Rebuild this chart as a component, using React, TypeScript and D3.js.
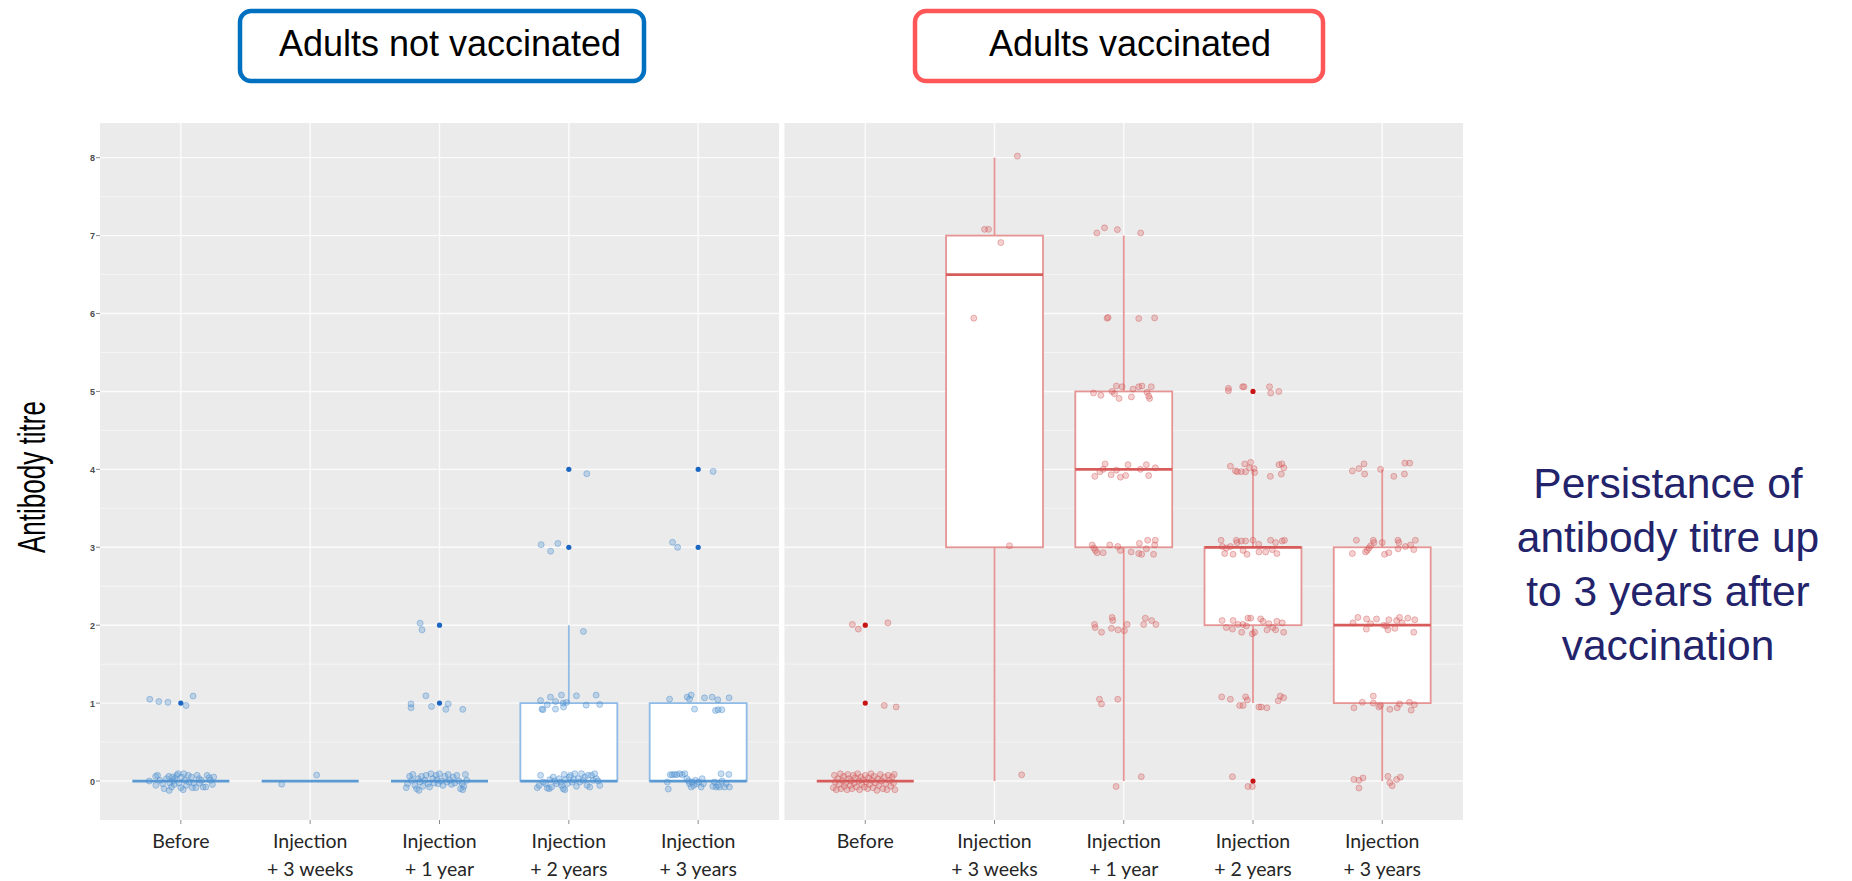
import React, { useEffect, useRef } from 'react';
import * as d3 from 'd3';

type Pt = [number, number]; // [horizontal jitter in category units, titre]

const categories = ['Before', '+3 weeks', '+1 year', '+2 years', '+3 years'];
const tickLines = [
  ['Before'],
  ['Injection', '+ 3 weeks'],
  ['Injection', '+ 1 year'],
  ['Injection', '+ 2 years'],
  ['Injection', '+ 3 years'],
];
const yTicks = [0, 1, 2, 3, 4, 5, 6, 7, 8];
const yMinor = [0.5, 1.5, 2.5, 3.5, 4.5, 5.5, 6.5, 7.5];

// box statistics, one entry per category
const notVaxQ1 = [0, 0, 0, 0, 0];
const notVaxMedian = [0, 0, 0, 0, 0];
const notVaxQ3 = [0, 0, 0, 1, 1];
const notVaxLow = [0, 0, 0, 0, 0];
const notVaxHigh = [0, 0, 0, 2, 1];
const notVaxOutliers = [[1], [], [1, 2], [3, 4], [3, 4]];

const vaxQ1 = [0, 3, 3, 2, 1];
const vaxMedian = [0, 6.5, 4, 3, 2];
const vaxQ3 = [0, 7, 5, 3, 3];
const vaxLow = [0, 0, 0, 1, 0];
const vaxHigh = [0, 8, 7, 4, 4];
const vaxOutliers = [[1, 2], [], [], [0, 5], []];

// jittered observations
const notVaxBefore: Pt[] = [
  [-0.24, 1.05], [-0.17, 1.02], [-0.1, 1.01], [0.04, 0.97], [0.095, 1.09],
  [-0.244, 0], [-0.195, 0.06], [-0.193, -0.055], [-0.18, 0.073], [-0.162, 0.009], [-0.129, -0.098],
  [-0.111, 0.03], [-0.093, 0.06], [-0.085, -0.026], [-0.072, -0.077], [-0.064, 0.051], [-0.059, 0],
  [-0.051, -0.043], [-0.046, 0.03], [-0.033, 0.073], [-0.021, 0.094], [-0.013, -0.026], [0, -0.085],
  [0.005, 0.051], [0.018, -0.111], [0.031, 0.009], [0.044, -0.055], [0.057, 0.073], [0.064, -0.013],
  [0.082, 0.051], [0.089, -0.085], [0.1, -0.026], [0.116, -0.085], [0.126, 0.073], [0.141, 0.03],
  [0.147, -0.026], [0.159, 0.009], [0.172, -0.077], [0.193, -0.077], [0.203, 0.073], [0.219, 0.043],
  [0.229, 0.009], [0.244, -0.043], [0.254, 0.051], [-0.09, -0.12], [-0.141, -0.034], [0.023, 0.094],
];
const notVax3w: Pt[] = [[-0.22, -0.04], [0.05, 0.077]];
const notVax1y: Pt[] = [
  [-0.15, 2.026], [-0.135, 1.94],
  [-0.22, 0.99], [-0.22, 0.94], [-0.105, 1.094], [-0.062, 0.957], [0.067, 0.99], [0.049, 0.92], [0.18, 0.92],
  [-0.257, -0.085], [-0.247, -0.034], [-0.231, 0.06], [-0.216, 0.009], [-0.206, 0.085], [-0.19, -0.056],
  [-0.177, -0.098], [-0.165, 0.03], [-0.152, -0.013], [-0.139, 0.06], [-0.129, -0.068], [-0.113, 0.009],
  [-0.103, 0.073], [-0.087, -0.034], [-0.077, -0.077], [-0.067, 0.094], [-0.051, 0.03], [-0.041, -0.026],
  [-0.026, 0.073], [-0.01, -0.034], [0, 0.094], [0.01, 0], [0.026, -0.056], [0.041, 0.06], [0.057, -0.013],
  [0.067, 0.085], [0.08, 0.009], [0.093, -0.043], [0.105, 0.051], [0.118, -0.026], [0.134, 0.073],
  [0.149, 0], [0.162, -0.098], [0.175, -0.034], [0.188, -0.068], [0.2, 0.085], [0.211, 0.009],
  [0.18, -0.111], [-0.159, -0.12], [-0.018, 0.017],
];
const notVax2y: Pt[] = [
  [0.139, 3.944], [-0.214, 3.034], [-0.141, 2.95], [-0.085, 3.05], [0.113, 1.92],
  [-0.219, 1.034], [-0.208, 0.923], [-0.2, 0.915], [-0.167, 0.979], [-0.142, 1.077], [-0.103, 1.021],
  [-0.103, 0.923], [-0.057, 1.103], [-0.041, 0.949], [-0.044, 1.0], [-0.018, 1.009], [0.059, 1.094],
  [0.134, 0.974], [0.211, 1.103], [0.239, 0.983],
  [-0.244, -0.085], [-0.229, -0.056], [-0.219, 0.073], [-0.198, -0.013], [-0.18, -0.034], [-0.167, -0.09],
  [-0.152, -0.098], [-0.147, 0.017], [-0.121, 0.051], [-0.108, 0], [-0.095, -0.034], [-0.075, 0.03],
  [-0.062, -0.013], [-0.044, -0.098], [-0.036, 0.085], [-0.026, 0.017], [-0.01, -0.034], [0.003, 0.051],
  [0.013, 0.073], [0.026, -0.013], [0.039, 0.017], [0.059, -0.068], [0.072, 0.03], [0.085, -0.013],
  [0.098, 0.094], [0.111, 0.009], [0.123, 0.051], [0.141, -0.056], [0.149, 0.073], [0.162, -0.077],
  [0.175, 0.073], [0.188, 0.009], [0.2, 0.094], [0.213, 0.03], [0.226, 0], [0.239, -0.056],
  [-0.031, -0.111], [0.046, 0.094], [-0.134, -0.077], [-0.057, -0.056],
];
const notVax3y: Pt[] = [
  [0.116, 3.974], [-0.198, 3.064], [-0.159, 3.0],
  [-0.221, 1.051], [-0.085, 1.077], [-0.054, 1.103], [-0.067, 1.051], [-0.028, 0.923], [0.049, 1.068],
  [0.108, 1.077], [0.152, 1.043], [0.134, 0.906], [0.154, 0.915], [0.183, 0.915], [0.239, 1.068],
  [-0.231, -0.103], [-0.216, 0.081], [-0.2, 0.081], [-0.183, 0.085], [-0.165, 0.081], [-0.144, 0.094],
  [-0.123, 0.081], [-0.103, 0.094], [-0.087, 0.03], [-0.075, 0], [-0.067, -0.034], [-0.054, -0.077],
  [-0.046, -0.013], [-0.036, -0.056], [-0.021, 0.009], [-0.01, -0.034], [0.005, -0.013], [0.023, -0.077],
  [0.031, 0.03], [0.041, -0.034], [0.113, -0.068], [0.126, -0.013], [0.139, -0.077], [0.152, -0.056],
  [0.165, -0.077], [0.177, 0.094], [0.185, 0], [0.203, -0.077], [0.216, -0.034], [0.237, 0.085],
  [0.242, -0.077], [-0.239, -0.013],
];

const vaxBefore: Pt[] = [
  [-0.1, 2.01], [-0.054, 1.95], [0.175, 2.03], [0.147, 0.97], [0.239, 0.95],
  [-0.247, -0.085], [-0.239, 0.073], [-0.231, -0.013], [-0.224, -0.111], [-0.213, 0.03], [-0.203, -0.043],
  [-0.193, 0.094], [-0.188, -0.098], [-0.177, 0.009], [-0.167, 0.06], [-0.162, -0.068], [-0.152, -0.026],
  [-0.141, -0.111], [-0.136, 0.085], [-0.126, 0.03], [-0.116, -0.056], [-0.111, 0], [-0.103, -0.098],
  [-0.093, 0.073], [-0.085, -0.026], [-0.077, 0.043], [-0.069, -0.077], [-0.059, 0.094], [-0.051, 0],
  [-0.044, -0.111], [-0.033, 0.051], [-0.026, -0.043], [-0.018, 0.017], [-0.008, -0.077], [0, 0.073],
  [0.008, -0.013], [0.018, -0.098], [0.026, 0.043], [0.033, -0.043], [0.044, 0.094], [0.051, 0.009],
  [0.059, -0.085], [0.069, 0.06], [0.08, -0.026], [0.09, -0.12], [0.098, 0.03], [0.105, -0.056],
  [0.116, 0.085], [0.126, 0], [0.136, -0.098], [0.147, 0.051], [0.157, -0.034], [0.167, -0.111],
  [0.177, 0.073], [0.188, 0.009], [0.198, -0.068], [0.208, 0.051], [0.219, -0.026], [0.229, -0.111],
  [0.224, 0.085],
];
const vax3w: Pt[] = [
  [0.177, 8.02], [-0.077, 7.08], [-0.046, 7.08], [0.049, 6.91], [-0.16, 5.94], [0.116, 3.02], [0.21, 0.08],
];
const vax1y: Pt[] = [
  [-0.208, 7.034], [-0.149, 7.1], [-0.049, 7.077], [0.131, 7.034],
  [-0.129, 5.94], [-0.121, 5.95], [0.116, 5.936], [0.239, 5.944],
  [-0.234, 4.98], [-0.177, 4.95], [-0.09, 5.0], [-0.072, 4.97], [-0.036, 4.91], [-0.057, 5.07],
  [-0.013, 5.06], [0.059, 4.93], [0.072, 5.03], [0.116, 5.06], [0.141, 5.07], [0.18, 4.99],
  [0.2, 4.91], [0.213, 5.06], [0.193, 4.94],
  [-0.224, 3.91], [-0.185, 3.97], [-0.159, 4.0], [-0.144, 4.07], [-0.098, 3.93], [-0.057, 3.99],
  [-0.026, 3.9], [0.015, 3.92], [0.033, 4.06], [0.129, 4.0], [0.175, 4.06], [0.193, 3.92], [0.244, 4.02],
  [-0.244, 3.03], [-0.231, 2.99], [-0.219, 2.96], [-0.206, 2.93], [-0.159, 2.93], [-0.108, 3.03],
  [-0.046, 3.01], [-0.026, 2.96], [0.057, 2.94], [0.121, 3.05], [0.116, 2.92], [0.139, 2.91],
  [0.175, 2.98], [0.185, 3.09], [0.231, 2.91], [0.244, 3.09], [0.239, 3.03],
  [-0.226, 2.01], [-0.221, 1.97], [-0.172, 1.91], [-0.09, 2.1], [-0.085, 2.06], [-0.095, 1.96],
  [-0.044, 1.94], [0.005, 1.93], [0.026, 2.01], [0.154, 2.01], [0.167, 2.09], [0.216, 2.06], [0.249, 2.01],
  [-0.188, 1.05], [-0.172, 0.99], [-0.046, 1.05],
  [-0.059, -0.07], [0.136, 0.056],
];
const vax2y: Pt[] = [
  [-0.19, 5.04], [-0.19, 5.01], [-0.08, 5.06], [-0.07, 5.06], [0.128, 5.06], [0.137, 4.98], [0.2, 5.0],
  [-0.175, 4.04], [-0.136, 3.98], [-0.121, 3.97], [-0.09, 3.97], [-0.064, 4.07], [-0.057, 3.97],
  [-0.026, 4.02], [-0.018, 4.09], [0.008, 4.01], [0.013, 3.96], [0.134, 3.91], [0.201, 4.06],
  [0.224, 4.07], [0.219, 3.94], [0.239, 4.02],
  [-0.247, 3.09], [-0.237, 3.01], [-0.219, 2.92], [-0.206, 2.99], [-0.175, 3.01], [-0.154, 2.91],
  [-0.129, 3.09], [-0.123, 3.06], [-0.09, 3.08], [-0.077, 2.96], [-0.057, 3.08], [-0.046, 2.91],
  [0, 3.09], [0.044, 3.04], [0.046, 2.94], [0.098, 2.94], [0.136, 3.09], [0.149, 2.97],
  [0.175, 3.06], [0.185, 2.92], [0.226, 3.08], [0.244, 3.09],
  [-0.239, 2.06], [-0.206, 1.97], [-0.159, 1.95], [-0.154, 2.06], [-0.116, 2.01], [-0.087, 1.91],
  [-0.077, 2.01], [-0.051, 1.99], [-0.039, 2.09], [-0.018, 2.09], [-0.005, 1.89], [0.013, 1.91],
  [0.059, 2.08], [0.077, 2.05], [0.108, 1.94], [0.123, 2.02], [0.154, 1.97], [0.175, 1.94],
  [0.185, 2.05], [0.226, 2.03], [0.237, 1.91],
  [-0.242, 1.08], [-0.175, 1.05], [-0.103, 0.97], [-0.077, 0.97], [-0.057, 1.08], [-0.044, 1.04],
  [0.046, 0.95], [0.064, 0.95], [0.108, 0.94], [0.195, 1.03], [0.211, 1.09], [0.237, 1.07],
  [-0.159, 0.056], [-0.039, -0.07], [-0.005, -0.07],
];
const vax3y: Pt[] = [
  [-0.231, 3.98], [-0.18, 4.01], [-0.141, 4.07], [-0.136, 3.94], [-0.013, 4.0], [0.09, 3.91],
  [0.172, 3.94], [0.175, 4.08], [0.213, 4.08],
  [-0.231, 2.92], [-0.2, 3.09], [-0.129, 2.94], [-0.116, 2.96], [-0.103, 2.99], [-0.09, 3.02],
  [-0.069, 3.09], [-0.064, 3.06], [0, 3.06], [0.018, 2.91], [0.051, 2.93], [0.121, 3.09],
  [0.123, 2.98], [0.129, 3.06], [0.18, 3.01], [0.219, 3.03], [0.244, 2.97], [0.257, 3.09],
  [-0.226, 2.03], [-0.188, 2.1], [-0.121, 2.08], [-0.123, 1.95], [-0.09, 2.02], [-0.044, 2.08],
  [0.013, 2.0], [0.033, 1.99], [0.044, 1.94], [0.051, 2.07], [0.098, 1.96], [0.111, 2.06],
  [0.134, 2.1], [0.154, 2.03], [0.198, 2.09], [0.244, 1.91], [0.252, 2.07],
  [-0.219, 0.94], [-0.154, 1.01], [-0.069, 1.09], [-0.069, 1.0], [-0.026, 0.95], [-0.013, 0.97],
  [0.059, 0.92], [0.116, 0.94], [0.134, 0.99], [0.211, 1.01], [0.224, 0.91], [0.249, 0.98],
  [-0.219, 0.02], [-0.18, 0.01], [-0.18, -0.09], [-0.149, 0.04], [0.044, 0.06], [0.059, -0.02],
  [0.077, -0.06], [0.111, 0.02], [0.141, 0.05],
];

const notVaxPoints = [notVaxBefore, notVax3w, notVax1y, notVax2y, notVax3y];
const vaxPoints = [vaxBefore, vax3w, vax1y, vax2y, vax3y];

const annotationLines = ['Persistance of', 'antibody titre up', 'to 3 years after', 'vaccination'];

const PLOT_TOP = 123;
const PLOT_BOTTOM = 820;

const App: React.FC = () => {
  const svgRef = useRef<SVGSVGElement>(null);

  useEffect(() => {
    if (!svgRef.current) return;
    const svg = d3.select(svgRef.current);
    svg.selectAll('*').remove();

    const y = d3.scaleLinear().domain([-0.5, 8.445]).range([PLOT_BOTTOM, PLOT_TOP]);

    const panels = [
      {
        x0: 100, x1: 779, q1: notVaxQ1, med: notVaxMedian, q3: notVaxQ3, lo: notVaxLow, hi: notVaxHigh,
        outliers: notVaxOutliers, points: notVaxPoints,
        boxStroke: '#8fbbe6', medStroke: '#5b9bd5', dot: '#1a66c2',
        ptFill: 'rgba(91,155,213,0.33)', ptStroke: 'rgba(70,135,205,0.45)',
      },
      {
        x0: 784.5, x1: 1463, q1: vaxQ1, med: vaxMedian, q3: vaxQ3, lo: vaxLow, hi: vaxHigh,
        outliers: vaxOutliers, points: vaxPoints,
        boxStroke: '#e69494', medStroke: '#d95c5c', dot: '#c81414',
        ptFill: 'rgba(222,100,100,0.3)', ptStroke: 'rgba(205,80,80,0.42)',
      },
    ];

    panels.forEach((p, pi) => {
      const x = d3.scalePoint<string>().domain(categories).range([p.x0, p.x1]).padding(0.625);
      const step = x.step();
      const bw = step * 0.75;
      const g = svg.append('g');

      g.append('rect')
        .attr('x', p.x0).attr('y', PLOT_TOP)
        .attr('width', p.x1 - p.x0).attr('height', PLOT_BOTTOM - PLOT_TOP)
        .attr('fill', '#ebebeb');

      g.selectAll('.minor').data(yMinor).enter().append('line')
        .attr('x1', p.x0).attr('x2', p.x1)
        .attr('y1', d => y(d)).attr('y2', d => y(d))
        .attr('stroke', '#f7f7f7').attr('stroke-width', 0.8);

      g.selectAll('.major').data(yTicks).enter().append('line')
        .attr('x1', p.x0).attr('x2', p.x1)
        .attr('y1', d => y(d)).attr('y2', d => y(d))
        .attr('stroke', '#fbfbfb').attr('stroke-width', 1.4);

      g.selectAll('.vgrid').data(categories).enter().append('line')
        .attr('x1', d => x(d) as number).attr('x2', d => x(d) as number)
        .attr('y1', PLOT_TOP).attr('y2', PLOT_BOTTOM)
        .attr('stroke', '#fbfbfb').attr('stroke-width', 1.4);

      categories.forEach((c, i) => {
        const cx = x(c) as number;
        // whiskers
        g.append('line').attr('x1', cx).attr('x2', cx)
          .attr('y1', y(p.q3[i])).attr('y2', y(p.hi[i]))
          .attr('stroke', p.boxStroke).attr('stroke-width', 1.8);
        g.append('line').attr('x1', cx).attr('x2', cx)
          .attr('y1', y(p.q1[i])).attr('y2', y(p.lo[i]))
          .attr('stroke', p.boxStroke).attr('stroke-width', 1.8);
        // box
        g.append('rect')
          .attr('x', cx - bw / 2).attr('y', y(p.q3[i]))
          .attr('width', bw).attr('height', Math.max(0, y(p.q1[i]) - y(p.q3[i])))
          .attr('fill', '#ffffff')
          .attr('stroke', p.boxStroke).attr('stroke-width', 1.8);
        g.append('line')
          .attr('x1', cx - bw / 2).attr('x2', cx + bw / 2)
          .attr('y1', y(p.med[i])).attr('y2', y(p.med[i]))
          .attr('stroke', p.medStroke).attr('stroke-width', 2.8);
        // outliers
        g.selectAll(`.out${pi}${i}`).data(p.outliers[i]).enter().append('circle')
          .attr('cx', cx).attr('cy', d => y(d)).attr('r', 2.6)
          .attr('fill', p.dot);
      });

      categories.forEach((c, i) => {
        const cx = x(c) as number;
        g.selectAll(`.pt${pi}${i}`).data(p.points[i]).enter().append('circle')
          .attr('cx', d => cx + d[0] * step)
          .attr('cy', d => y(d[1]))
          .attr('r', 3)
          .attr('fill', p.ptFill)
          .attr('stroke', p.ptStroke)
          .attr('stroke-width', 0.9);
      });

      // x axis ticks + labels
      categories.forEach((c, i) => {
        const cx = x(c) as number;
        g.append('line').attr('x1', cx).attr('x2', cx)
          .attr('y1', PLOT_BOTTOM).attr('y2', PLOT_BOTTOM + 4)
          .attr('stroke', '#8c8c8c').attr('stroke-width', 1);
        const t = g.append('text')
          .attr('x', cx).attr('text-anchor', 'middle')
          .attr('font-family', 'Lato, "Open Sans", sans-serif')
          .attr('font-size', 19.5).attr('fill', '#262626');
        tickLines[i].forEach((line, li) => {
          t.append('tspan').attr('x', cx).attr('y', 848 + li * 28).text(line);
        });
      });
    });

    // y axis labels on left panel
    const ya = svg.append('g');
    ya.selectAll('line').data(yTicks).enter().append('line')
      .attr('x1', 96).attr('x2', 100)
      .attr('y1', d => y(d)).attr('y2', d => y(d))
      .attr('stroke', '#8c8c8c').attr('stroke-width', 1);
    ya.selectAll('text').data(yTicks).enter().append('text')
      .attr('x', 95).attr('y', d => y(d) + 3.5)
      .attr('text-anchor', 'end')
      .attr('font-family', '"Liberation Sans", Arial, sans-serif')
      .attr('font-size', 9).attr('font-weight', 'bold').attr('fill', '#4d4d4d')
      .text(d => String(d));

    svg.append('text')
      .attr('transform', 'translate(45,477) rotate(-90)')
      .attr('text-anchor', 'middle')
      .attr('font-family', '"Liberation Sans", Arial, sans-serif')
      .attr('font-size', 38).attr('fill', '#000')
      .attr('textLength', 152).attr('lengthAdjust', 'spacingAndGlyphs')
      .text('Antibody titre');

    // group headers
    const headers = [
      { x0: 240, x1: 644, stroke: '#0070c0', label: 'Adults not vaccinated', tx: 450 },
      { x0: 915, x1: 1323, stroke: '#ff5757', label: 'Adults vaccinated', tx: 1130 },
    ];
    headers.forEach(h => {
      svg.append('rect')
        .attr('x', h.x0).attr('y', 11).attr('width', h.x1 - h.x0).attr('height', 70)
        .attr('rx', 11).attr('fill', '#ffffff')
        .attr('stroke', h.stroke).attr('stroke-width', 4.5);
      svg.append('text')
        .attr('x', h.tx).attr('y', 56).attr('text-anchor', 'middle')
        .attr('font-family', '"Liberation Sans", Arial, sans-serif')
        .attr('font-size', 36).attr('fill', '#000')
        .text(h.label);
    });

    svg.selectAll('.anno').data(annotationLines).enter().append('text')
      .attr('x', 1668).attr('y', (_, i) => 498 + i * 54)
      .attr('text-anchor', 'middle')
      .attr('font-family', '"Liberation Sans", Arial, sans-serif')
      .attr('font-size', 42.5).attr('fill', '#23236b')
      .text(d => d);
  }, []);

  return (
    <div style={{ position: 'absolute', left: 0, top: 0 }}>
      <svg ref={svgRef} width={1852} height={881} style={{ display: 'block', background: '#fff' }}></svg>
    </div>
  );
};

export default App;
